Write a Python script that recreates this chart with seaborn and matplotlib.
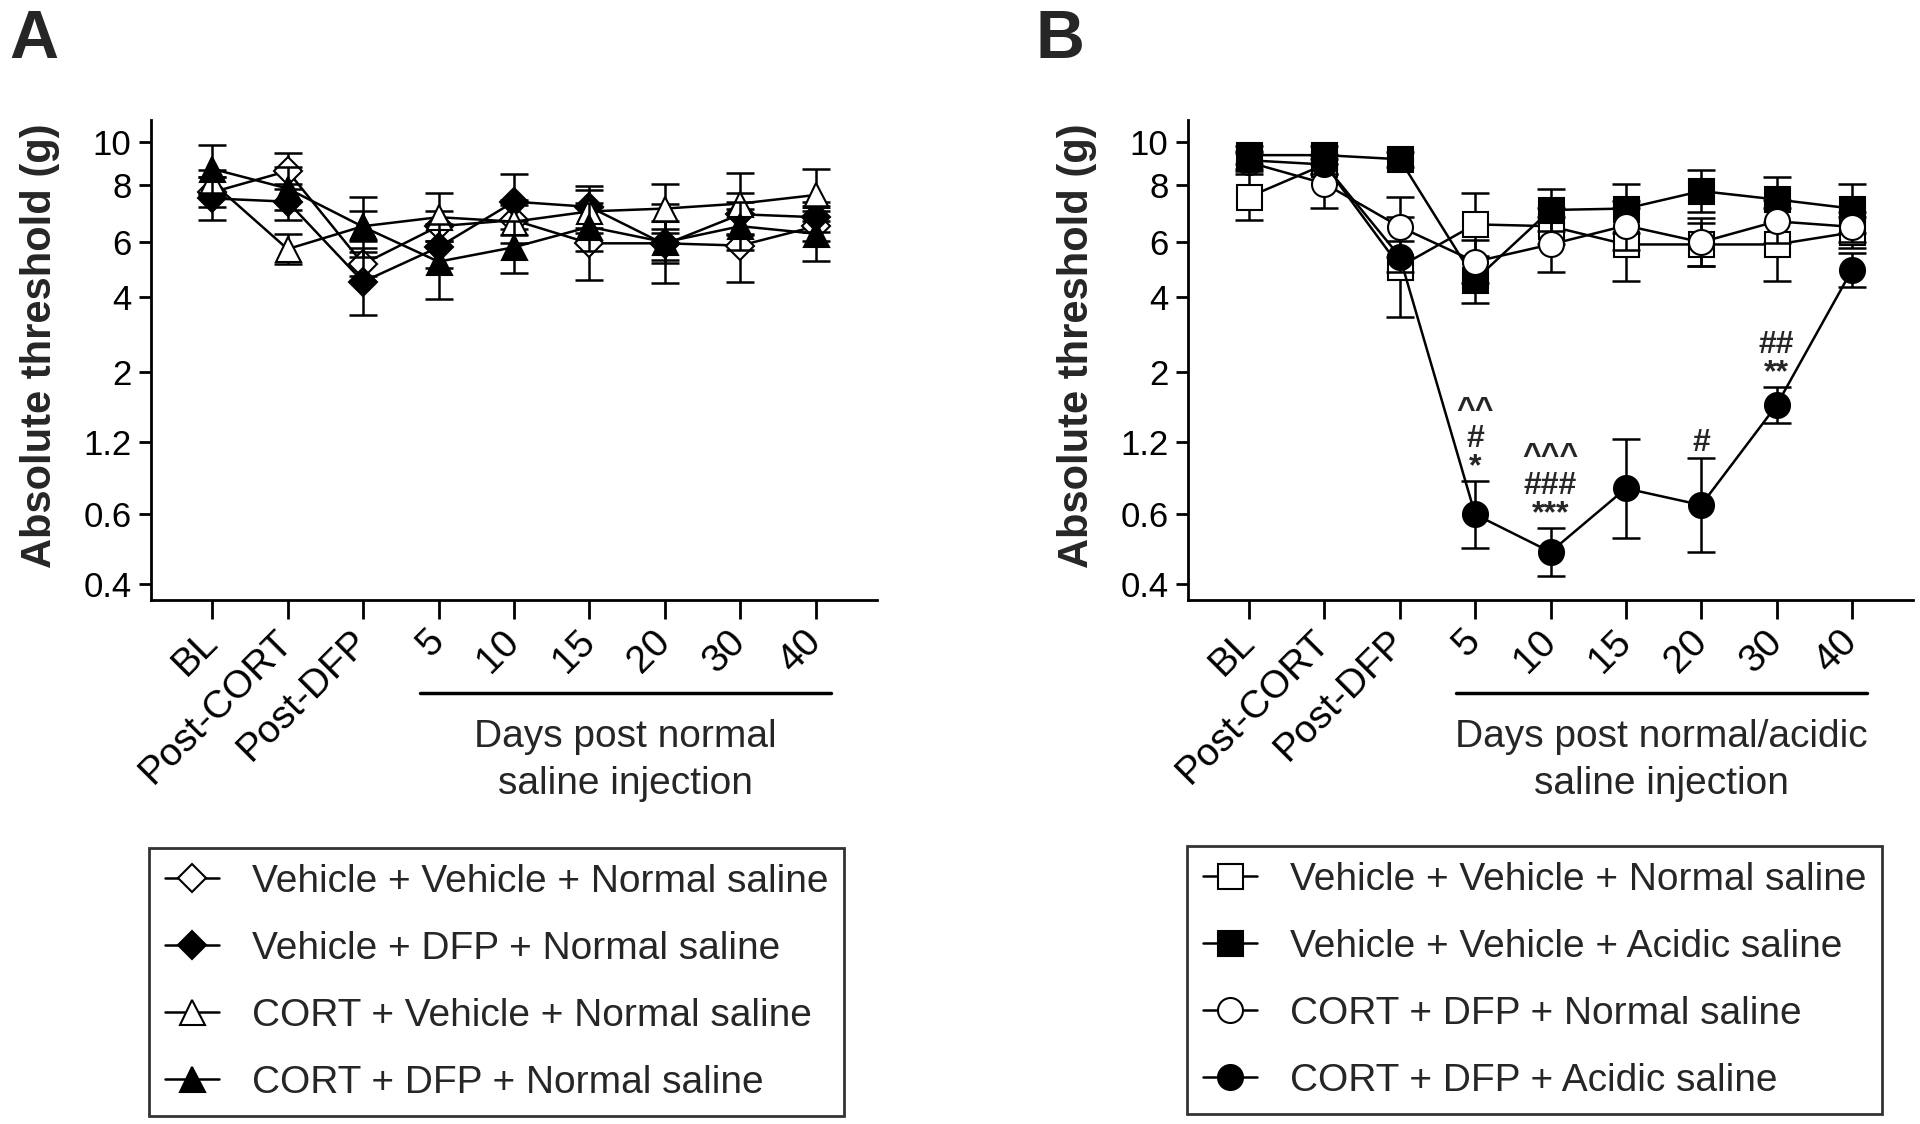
import numpy as np
import matplotlib
matplotlib.use("Agg")
import matplotlib.pyplot as plt
import matplotlib.transforms as mtransforms
from matplotlib.lines import Line2D
import seaborn as sns

sns.set_style("ticks")
plt.rcParams["font.family"] = ["Liberation Sans", "DejaVu Sans"]

timepoints = ["BL", "Post-CORT", "Post-DFP", "5", "10", "15", "20", "30", "40"]

# von Frey filament scale: gram labels vs evaluator (log) units
filament_g = [0.16, 0.4, 0.6, 1.2, 2, 4, 6, 8, 10, 15]
filament_units = [3.22, 3.61, 3.84, 4.08, 4.31, 4.56, 4.74, 4.93, 5.07, 5.18]
ytick_vals = [0.4, 0.6, 1.2, 2, 4, 6, 8, 10]
ytick_labels = ["0.4", "0.6", "1.2", "2", "4", "6", "8", "10"]
ylim_units = (3.557, 5.144)

# ---- panel A : means (g) and SEM (filament log units)
a_names = ["Vehicle + Vehicle + Normal saline", "Vehicle + DFP + Normal saline",
           "CORT + Vehicle + Normal saline", "CORT + DFP + Normal saline"]
a_vvn = [7.7, 8.6, 5.1, 6.5, 6.7, 5.95, 5.95, 5.85, 6.5]
a_vvn_sem = [0.05, 0.06, 0.04, 0.05, 0.05, 0.12, 0.13, 0.12, 0.05]
a_vdn = [7.47, 7.35, 4.47, 5.78, 7.35, 7.16, 5.9, 6.9, 6.8]
a_vdn_sem = [0.07, 0.06, 0.11, 0.07, 0.09, 0.07, 0.05, 0.07, 0.05]
a_cvn = [8.1, 5.7, 6.5, 6.8, 6.65, 7.0, 7.1, 7.28, 7.6]
a_cvn_sem = [0.04, 0.05, 0.05, 0.08, 0.07, 0.07, 0.08, 0.10, 0.085]
a_cdn = [8.7, 7.85, 6.48, 5.19, 5.78, 6.48, 6.0, 6.5, 6.26]
a_cdn_sem = [0.08, 0.07, 0.10, 0.125, 0.085, 0.08, 0.07, 0.08, 0.09]

# ---- panel B
b_names = ["Vehicle + Vehicle + Normal saline", "Vehicle + Vehicle + Acidic saline",
           "CORT + DFP + Normal saline", "CORT + DFP + Acidic saline"]
b_vvn = [7.53, 8.9, 5.0, 6.56, 6.5, 5.9, 5.9, 5.9, 6.3]
b_vvn_sem = [0.075, 0.03, 0.165, 0.105, 0.06, 0.12, 0.07, 0.12, 0.05]
b_vva = [9.35, 9.35, 9.15, 4.53, 7.05, 7.1, 7.75, 7.43, 7.1]
b_vva_sem = [0.03, 0.03, 0.025, 0.075, 0.07, 0.08, 0.07, 0.075, 0.08]
b_cdn = [9.0, 8.05, 6.48, 5.19, 5.9, 6.52, 6.0, 6.66, 6.48]
b_cdn_sem = [0.03, 0.08, 0.10, 0.07, 0.09, 0.08, 0.08, 0.07, 0.05]
b_cda = [9.1, 8.9, 5.39, 0.6, 0.482, 0.769, 0.656, 1.57, 4.88]
b_cda_sem = [0.03, 0.03, 0.05, 0.11, 0.08, 0.165, 0.155, 0.06, 0.055]

# significance marks over CORT + DFP + Acidic saline
b_sig_idx = [3, 4, 6, 7]
b_sig_text = ["^^\n#\n*", "^^^\n###\n***", "#", "##\n**"]

x_pos = np.arange(len(timepoints))
log_g = np.log10(filament_g)


def to_units(g):
    g = np.clip(np.asarray(g, dtype=float), 1e-3, None)
    return np.interp(np.log10(g), log_g, filament_units)


def from_units(u):
    return 10 ** np.interp(np.asarray(u, dtype=float), filament_units, log_g)


FS = 28
LW = 1.8

fig = plt.figure(figsize=(19.2, 11.24), dpi=100)
ax_a = fig.add_axes([151 / 1920, 1 - 600 / 1124, 726 / 1920, 480 / 1124])
ax_b = fig.add_axes([1188 / 1920, 1 - 600 / 1124, 725 / 1920, 480 / 1124])


def draw_panel(ax, series, bracket_text):
    ax.set_yscale("function", functions=(to_units, from_units))
    handles = []
    for i, (name, mean, sem, marker, ms, face) in enumerate(series):
        mean = np.asarray(mean)
        u = to_units(mean)
        lo = from_units(u - np.asarray(sem))
        hi = from_units(u + np.asarray(sem))
        ax.errorbar(x_pos, mean, yerr=[mean - lo, hi - mean], fmt="none",
                    ecolor="black", elinewidth=LW, capsize=10, capthick=LW,
                    zorder=2 + 2 * i)
        sns.lineplot(x=x_pos, y=mean, ax=ax, color="black", lw=LW,
                     marker=marker, markersize=ms, markerfacecolor=face,
                     markeredgecolor="black", markeredgewidth=1.5,
                     errorbar=None, legend=False, zorder=3 + 2 * i)
        handles.append(Line2D([], [], color="black", lw=LW, marker=marker,
                              ms=ms, mfc=face, mec="black", mew=1.5))

    ax.set_xlim(-0.81, 8.81)
    ax.set_ylim(from_units(ylim_units[0]), from_units(ylim_units[1]))
    ax.set_yticks(ytick_vals, ytick_labels, fontsize=25)
    ax.yaxis.set_minor_locator(matplotlib.ticker.NullLocator())
    ax.set_xticks(x_pos, timepoints, fontsize=FS, rotation=45,
                  ha="right", va="center", rotation_mode="anchor")
    ax.tick_params(axis="x", length=14, width=2, pad=12, colors="black")
    ax.tick_params(axis="y", length=9, width=2, pad=5, colors="black")
    sns.despine(ax=ax)
    for s in ("left", "bottom"):
        ax.spines[s].set_linewidth(2)
        ax.spines[s].set_color("black")
    ax.set_xlabel("")
    ax.set_ylabel("Absolute threshold (g)", fontsize=30, fontweight="bold")
    ax.yaxis.set_label_coords(-0.125, 0.53)

    tr = mtransforms.blended_transform_factory(ax.transData, ax.transAxes)
    ax.plot([2.75, 8.2], [-0.194, -0.194], transform=tr, color="black",
            lw=2.5, clip_on=False)
    ax.text(5.47, -0.248, bracket_text, transform=tr, ha="center", va="top",
            fontsize=FS, linespacing=1.38)
    return handles


a_series = [
    (a_names[0], a_vvn, a_vvn_sem, "D", 14, "white"),
    (a_names[1], a_vdn, a_vdn_sem, "D", 14, "black"),
    (a_names[2], a_cvn, a_cvn_sem, "^", 18, "white"),
    (a_names[3], a_cdn, a_cdn_sem, "^", 18, "black"),
]
b_series = [
    (b_names[0], b_vvn, b_vvn_sem, "s", 18, "white"),
    (b_names[1], b_vva, b_vva_sem, "s", 18, "black"),
    (b_names[2], b_cdn, b_cdn_sem, "o", 18, "white"),
    (b_names[3], b_cda, b_cda_sem, "o", 18, "black"),
]

h_a = draw_panel(ax_a, a_series, "Days post normal\nsaline injection")
h_b = draw_panel(ax_b, b_series, "Days post normal/acidic\nsaline injection")

# significance stacks above error bars
cda = np.asarray(b_cda)
cda_hi = from_units(to_units(cda) + np.asarray(b_cda_sem))
for idx, txt in zip(b_sig_idx, b_sig_text):
    dy = -1 if txt.endswith("*") else 0
    ax_b.annotate(txt, xy=(x_pos[idx], cda_hi[idx]), xytext=(0, dy),
                  textcoords="offset points", ha="center", va="bottom",
                  fontsize=23, fontweight="bold", linespacing=0.93)

for handles, names, anchor in [(h_a, a_names, (149 / 1920, 1 - 848 / 1124)),
                               (h_b, b_names, (1187 / 1920, 1 - 846 / 1124))]:
    leg = fig.legend(handles, names, loc="upper left", bbox_to_anchor=anchor,
                     frameon=True, fancybox=False, edgecolor="black",
                     fontsize=FS, handlelength=1.4, handletextpad=0.85,
                     labelspacing=0.8, borderpad=0.4, borderaxespad=0)
    leg.get_frame().set_linewidth(2)

fig.text(9 / 1920, 0.993, "A", fontsize=49, fontweight="bold", va="top", ha="left")
fig.text(1036 / 1920, 0.993, "B", fontsize=49, fontweight="bold", va="top", ha="left")

fig.savefig("out.png", dpi=100)
